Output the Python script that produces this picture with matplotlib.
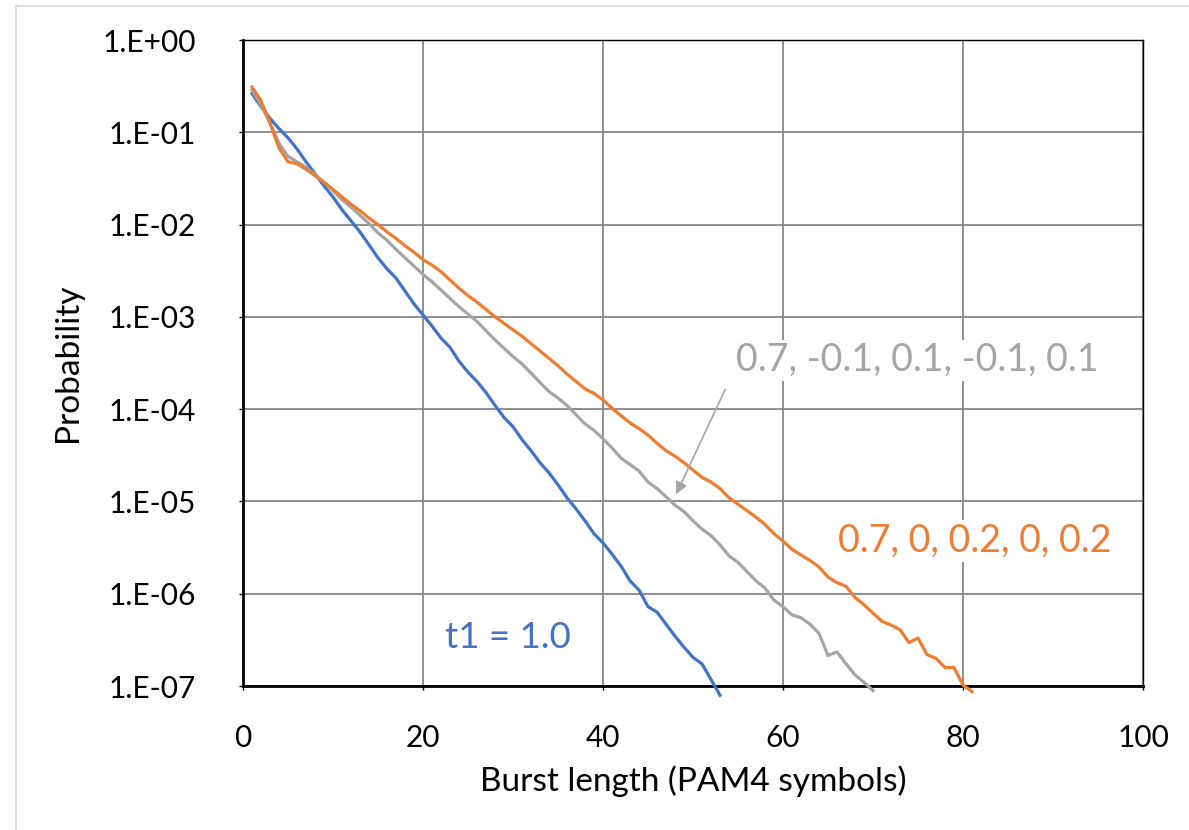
import matplotlib
matplotlib.use("Agg")
import matplotlib.pyplot as plt
from matplotlib.lines import Line2D
import numpy as np

# burst length axis values (PAM4 symbols)
blue_x = list(range(1, 54))
orange_x = list(range(1, 82))
gray_x = list(range(1, 71))

# log10(probability), one value per burst length
blue_log10p = [-0.58, -0.72, -0.85, -0.96, -1.06, -1.18, -1.32, -1.45, -1.58, -1.70,
               -1.84, -1.96, -2.08, -2.22, -2.36, -2.48, -2.58, -2.72, -2.86, -2.98,
               -3.10, -3.23, -3.33, -3.48, -3.60, -3.70, -3.82, -3.96, -4.09, -4.19,
               -4.33, -4.45, -4.58, -4.69, -4.82, -4.96, -5.08, -5.21, -5.35, -5.45,
               -5.57, -5.70, -5.86, -5.96, -6.14, -6.20, -6.33, -6.46, -6.58, -6.69,
               -6.76, -6.93, -7.10]
orange_log10p = [-0.51, -0.66, -0.90, -1.17, -1.32, -1.34, -1.40, -1.47, -1.54, -1.62,
                 -1.70, -1.78, -1.85, -1.93, -2.00, -2.08, -2.15, -2.23, -2.30, -2.38,
                 -2.44, -2.51, -2.60, -2.69, -2.77, -2.84, -2.92, -3.00, -3.07, -3.14,
                 -3.21, -3.29, -3.37, -3.45, -3.53, -3.62, -3.70, -3.78, -3.83, -3.90,
                 -3.99, -4.07, -4.15, -4.21, -4.28, -4.37, -4.45, -4.51, -4.58, -4.66,
                 -4.74, -4.79, -4.86, -4.96, -5.03, -5.10, -5.17, -5.25, -5.35, -5.43,
                 -5.52, -5.58, -5.64, -5.71, -5.82, -5.88, -5.92, -6.04, -6.12, -6.21,
                 -6.30, -6.34, -6.39, -6.53, -6.48, -6.66, -6.70, -6.80, -6.80, -6.99,
                 -7.06]
gray_log10p = [-0.54, -0.70, -0.90, -1.12, -1.26, -1.32, -1.38, -1.46, -1.54, -1.63,
               -1.73, -1.81, -1.90, -1.99, -2.09, -2.17, -2.27, -2.36, -2.45, -2.54,
               -2.62, -2.71, -2.80, -2.89, -2.97, -3.05, -3.15, -3.25, -3.34, -3.43,
               -3.51, -3.61, -3.71, -3.81, -3.88, -3.96, -4.06, -4.16, -4.23, -4.32,
               -4.42, -4.53, -4.60, -4.67, -4.79, -4.86, -4.95, -5.04, -5.11, -5.21,
               -5.30, -5.37, -5.47, -5.59, -5.66, -5.76, -5.86, -5.94, -6.07, -6.14,
               -6.23, -6.26, -6.33, -6.43, -6.67, -6.63, -6.76, -6.88, -6.96, -7.05]

xticks = [0, 20, 40, 60, 80, 100]
yticks = [1e0, 1e-1, 1e-2, 1e-3, 1e-4, 1e-5, 1e-6, 1e-7]
ytick_labels = ["1.E+00", "1.E-01", "1.E-02", "1.E-03", "1.E-04", "1.E-05", "1.E-06", "1.E-07"]

blue = "#4472C4"
orange = "#ED7D31"
gray = "#A5A5A5"

plt.rcParams['font.family'] = ['Lato', 'DejaVu Sans']

fig = plt.figure(figsize=(11.89, 8.3), dpi=100)
ax = fig.add_axes([243/1189, 1 - 686/830, 900/1189, 646/830])

ax.plot(blue_x, 10 ** np.array(blue_log10p), color=blue, lw=2.3, clip_on=False, zorder=3)
ax.plot(gray_x, 10 ** np.array(gray_log10p), color=gray, lw=2.3, clip_on=False, zorder=3)
ax.plot(orange_x, 10 ** np.array(orange_log10p), color=orange, lw=2.3, clip_on=False, zorder=3)

ax.set_yscale("log")
ax.set_xlim(0, 100)
ax.set_ylim(1e-7, 1e0)
ax.set_xticks(xticks)
ax.set_xticklabels([str(t) for t in xticks])
ax.set_yticks(yticks)
ax.set_yticklabels(ytick_labels)
ax.minorticks_off()
ax.tick_params(axis="both", labelsize=21.5, colors="black", length=3, width=1)
ax.tick_params(axis="y", pad=31)
ax.tick_params(axis="x", pad=24)
ax.grid(True, color="#878787", lw=1.3)
ax.set_axisbelow(True)

for side in ["left", "bottom"]:
    ax.spines[side].set_linewidth(2.0)
for side in ["top", "right"]:
    ax.spines[side].set_linewidth(1.0)
for sp in ax.spines.values():
    sp.set_color("black")

ax.set_xlabel("Burst length (PAM4 symbols)", fontsize=24, labelpad=10)
ax.set_ylabel("Probability", fontsize=24, labelpad=14)

box = dict(facecolor="white", edgecolor="none", pad=2)
ax.text(22.4, 10 ** -6.47, "t1 = 1.0", color=blue, fontsize=26.5, ha="left", va="center", bbox=box)
ax.text(54.8, 10 ** -3.47, "0.7, -0.1, 0.1, -0.1, 0.1", color=gray, fontsize=27,
        ha="left", va="center", bbox=box)
ax.text(66.1, 10 ** -5.43, "0.7, 0, 0.2, 0, 0.2", color=orange, fontsize=27,
        ha="left", va="center", bbox=box)
ax.annotate("", xy=(48.0, 10 ** -4.95), xytext=(53.7, 10 ** -3.76),
            arrowprops=dict(arrowstyle="-|>", color=gray, lw=1.2, mutation_scale=18))

# chart area border (top and left edges visible in the screenshot)
fig.add_artist(Line2D([16/1189, 1], [1 - 6/830, 1 - 6/830], color="#D9D9D9", lw=1.2))
fig.add_artist(Line2D([16/1189, 16/1189], [0, 1 - 6/830], color="#D9D9D9", lw=1.2))

fig.savefig("out.png", dpi=100)
